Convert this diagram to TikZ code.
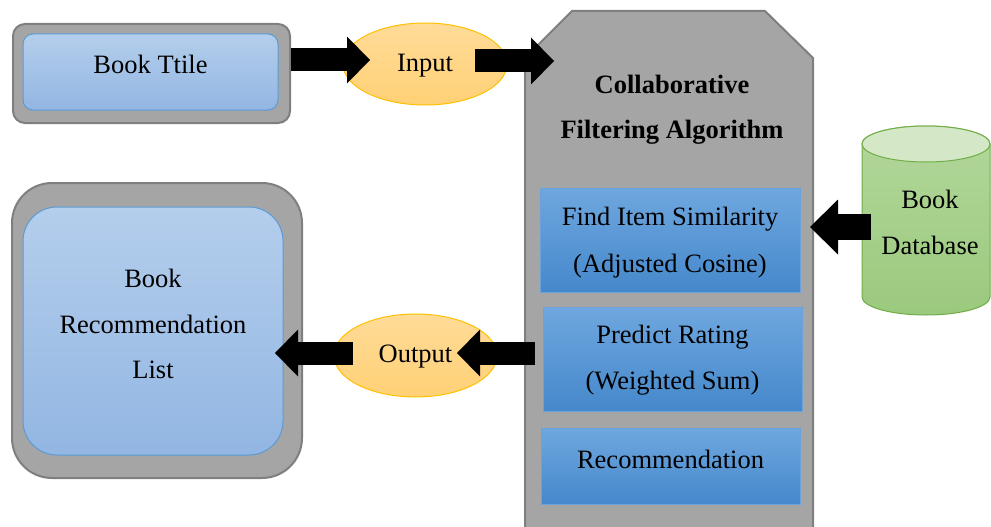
\documentclass[tikz,border=0pt]{standalone}
\usepackage{fontspec}
\setmainfont{Liberation Serif}
\usetikzlibrary{arrows.meta,shapes.geometric}
\definecolor{grayfill}{HTML}{A5A5A5}
\definecolor{grayline}{HTML}{7F7F7F}
\definecolor{lbtop}{HTML}{B4CEEC}
\definecolor{lbbot}{HTML}{92B6E2}
\definecolor{lbline}{HTML}{5B9BD5}
\definecolor{sbtop}{HTML}{6FA7DF}
\definecolor{sbbot}{HTML}{4588CB}
\definecolor{sbline}{HTML}{6BA2DA}
\definecolor{ortop}{HTML}{FFDB98}
\definecolor{orbot}{HTML}{FFD176}
\definecolor{orline}{HTML}{FFC000}
\definecolor{grtop}{HTML}{B2D79B}
\definecolor{grbot}{HTML}{9BC97D}
\definecolor{grcap}{HTML}{D4E8C8}
\definecolor{grline}{HTML}{70AD47}
\begin{document}
\begin{tikzpicture}[x=1pt,y=-1pt,
  font=\fontsize{26.5}{45}\selectfont,
  outerbox/.style={draw=grayline, line width=2pt, fill=grayfill, inner sep=0pt},
  lightbox/.style={draw=lbline, line width=1pt, top color=lbtop, bottom color=lbbot, inner sep=0pt},
  stepbox/.style={draw=sbline, line width=1pt, top color=sbtop, bottom color=sbbot, inner sep=0pt},
  ovalbox/.style={ellipse, draw=orline, line width=1pt, top color=ortop, bottom color=orbot, inner sep=0pt},
  txt/.style={anchor=base, inner sep=0pt},
  bigarrow/.style={line width=#1, -{Triangle[length=23pt, width=47pt, line width=0pt]}},
  bigarrow/.default=23pt
]
\useasboundingbox (0,0) rectangle (991,527);

% Book title box
\node[outerbox, rounded corners=12pt, minimum width=277pt, minimum height=99pt] (titleouter) at (151.5,73.5) {};
\node[lightbox, rounded corners=10pt, minimum width=255pt, minimum height=76pt] (titleinner) at (150.5,72) {};
\node[txt] (titletxt) at (150.5,74) {Book Ttile};

% Recommendation list box
\node[outerbox, rounded corners=40pt, minimum width=290pt, minimum height=295pt] (listouter) at (157,330.5) {};
\node[lightbox, rounded corners=34pt, minimum width=260pt, minimum height=248pt] (listinner) at (153,331) {};
\node[txt] (listl1) at (153,287) {Book};
\node[txt] (listl2) at (153,333) {Recommendation};
\node[txt] (listl3) at (153,378) {List};

% Algorithm container
\draw[draw=grayline, line width=2pt, fill=grayfill]
  (525,58) -- (572,11) -- (765,11) -- (813,58) -- (813,545) -- (525,545) -- cycle;
\node[txt, font=\fontsize{26.5}{45}\selectfont\bfseries] (algo1) at (672,93) {Collaborative};
\node[txt, font=\fontsize{26.5}{45}\selectfont\bfseries] (algo2) at (672,138) {Filtering Algorithm};
\coordinate (algoleft) at (535,353);
\coordinate (algotop) at (554,61);

% Steps
\node[stepbox, minimum width=260pt, minimum height=104pt] (step1) at (670,240) {};
\node[txt] (s1a) at (670,225) {Find Item Similarity};
\node[txt] (s1b) at (670,272) {(Adjusted Cosine)};
\node[stepbox, minimum width=259pt, minimum height=104pt] (step2) at (672.5,359) {};
\node[txt] (s2a) at (672.5,343) {Predict Rating};
\node[txt] (s2b) at (672.5,389) {(Weighted Sum)};
\node[stepbox, minimum width=259pt, minimum height=76pt] (step3) at (670.5,466) {};
\node[txt] (s3a) at (670.5,468) {Recommendation};

% Database cylinder
\draw[draw=grline, line width=1pt, top color=grtop, bottom color=grbot]
  (862,144) -- (862,297) arc[start angle=180, end angle=0, x radius=64, y radius=18]
  -- (990,144) arc[start angle=0, end angle=-180, x radius=64, y radius=18] -- cycle;
\draw[draw=grline, line width=1pt, fill=grcap] (926,144) ellipse[x radius=64, y radius=18];
\node[txt] (db1) at (930,208) {Book};
\node[txt] (db2) at (930,254) {Database};
\coordinate (dbleft) at (871,227);
\coordinate (step1tip) at (810,227);

% Ovals
\node[ovalbox, minimum width=164pt, minimum height=82pt] (input) at (425,64) {};
\node[txt] (inputtxt) at (425,72) {Input};
\node[ovalbox, minimum width=163pt, minimum height=83pt] (output) at (415.5,355.5) {};
\node[txt] (outputtxt) at (415.5,362) {Output};

% Arrows
\coordinate (a1s) at (titleouter.east |- 0,60);
\coordinate (a1e) at (370,60);
\draw[bigarrow] (a1s) -- (a1e);
\coordinate (a2s) at (475,61);
\draw[bigarrow] (a2s) -- (algotop);
\draw[line width=26pt, -{Triangle[length=28pt, width=55pt, line width=0pt]}] (dbleft) -- (step1tip);
\coordinate (a4e) at (457,353);
\draw[bigarrow] (algoleft) -- (a4e);
\coordinate (a5s) at (353,353);
\coordinate (a5e) at (275,353);
\draw[bigarrow] (a5s) -- (a5e);
\end{tikzpicture}
\end{document}
